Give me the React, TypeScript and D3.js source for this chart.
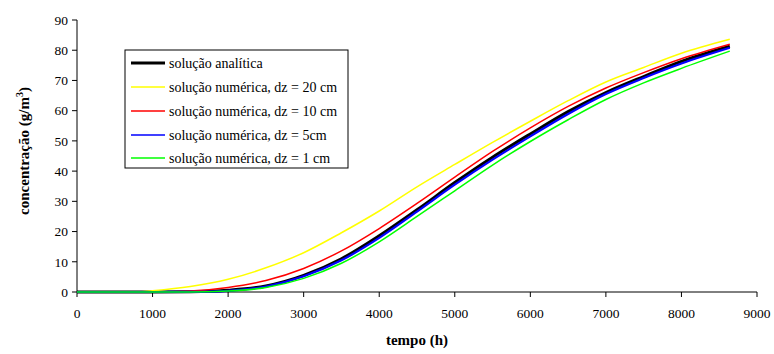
import React from "react";
import * as d3 from "d3";

const times = [0, 500, 800, 1000, 1500, 2000, 2500, 3000, 3500, 4000, 4500, 5000, 5500, 6000, 6500, 7000, 7500, 8000, 8640];
const analitica = [0, 0, 0, 0, 0.1, 0.6, 2.0, 5.5, 11, 18.6, 27.2, 36.2, 44.6, 52.3, 59.7, 66, 71.3, 76.3, 81.3];
const dz20 = [0, 0, 0, 0.4, 1.8, 4.2, 8, 13, 19.6, 26.8, 34.8, 42.2, 49.5, 56.5, 63.3, 69.5, 74.3, 79, 83.6];
const dz10 = [0, 0, 0, 0, 0.3, 1.5, 3.8, 7.8, 13.6, 21, 29.3, 38, 46.5, 54.3, 61.4, 67.5, 72.6, 77.2, 82];
const dz5 = [0, 0, 0, 0, 0.05, 0.4, 1.8, 5.2, 10.5, 17.9, 26.6, 35.5, 43.8, 51.5, 58.9, 65.5, 70.8, 75.6, 80.8];
const dz1 = [0, 0, 0, 0, 0, 0.3, 1.5, 4.5, 9.5, 16.6, 25, 33.5, 42, 49.8, 57, 63.7, 69.2, 74, 79.7];

const seriesNames = [
  "solução analítica",
  "solução numérica, dz = 20 cm",
  "solução numérica, dz = 10 cm",
  "solução numérica, dz = 5cm",
  "solução numérica, dz = 1 cm",
];
const seriesValues = [analitica, dz20, dz10, dz5, dz1];
const seriesColors = ["#000000", "#ffff00", "#ff0000", "#0000ff", "#00ff00"];
const seriesWidths = [3, 1.5, 1.5, 2.2, 1.5];

const xTicks = [0, 1000, 2000, 3000, 4000, 5000, 6000, 7000, 8000, 9000];
const yTicks = [0, 10, 20, 30, 40, 50, 60, 70, 80, 90];

const FONT = '"Liberation Serif", "Times New Roman", "DejaVu Serif", serif';

export default function App() {
  const W = 774, H = 354;
  const x = d3.scaleLinear().domain([0, 9000]).range([77, 757]);
  const y = d3.scaleLinear().domain([0, 90]).range([292, 20]);
  const line = d3
    .line<[number, number]>()
    .x((d) => x(d[0]))
    .y((d) => y(d[1]))
    .curve(d3.curveMonotoneX);

  const legX = 125, legY = 50, legW = 223, legH = 118;
  const rowY = [63, 87, 111, 135, 158];
  const ts: React.CSSProperties = { fontFamily: FONT };

  return (
    <svg width={W} height={H} style={{ position: "absolute", left: 0, top: 0, background: "#fff", fontFamily: FONT }}>
      <rect x={0} y={0} width={W} height={H} fill="#fff" />
      <line x1={77} y1={20} x2={77} y2={292} stroke="#000" strokeWidth={1} />
      <line x1={77} y1={292} x2={757} y2={292} stroke="#000" strokeWidth={1} />
      {yTicks.map((t) => (
        <g key={"y" + t}>
          <line x1={72} x2={77} y1={y(t)} y2={y(t)} stroke="#000" />
          <text x={68} y={y(t)} dy="0.35em" textAnchor="end" fontSize={13.5} style={ts}>
            {t}
          </text>
        </g>
      ))}
      {xTicks.map((t) => (
        <g key={"x" + t}>
          <line x1={x(t)} x2={x(t)} y1={292} y2={297} stroke="#000" />
          <text x={x(t)} y={318} textAnchor="middle" fontSize={13.5} style={ts}>
            {t}
          </text>
        </g>
      ))}
      {seriesValues.map((vals, i) => (
        <path
          key={"s" + i}
          d={line(times.map((t, j) => [t, vals[j]] as [number, number])) || ""}
          fill="none"
          stroke={seriesColors[i]}
          strokeWidth={seriesWidths[i]}
        />
      ))}
      <text x={417} y={345} textAnchor="middle" fontSize={15} fontWeight="bold" style={ts}>
        tempo (h)
      </text>
      <text transform="translate(29,151) rotate(-90)" textAnchor="middle" fontSize={15} fontWeight="bold" style={ts}>
        concentração (g/m<tspan dy={-6} fontSize={10}>3</tspan>
        <tspan dy={6}>)</tspan>
      </text>
      <rect x={legX} y={legY} width={legW} height={legH} fill="#fff" stroke="#000" strokeWidth={1} />
      {seriesNames.map((n, i) => (
        <g key={"l" + i}>
          <line x1={131} x2={165} y1={rowY[i]} y2={rowY[i]} stroke={seriesColors[i]} strokeWidth={i === 0 ? 3 : 1.5} />
          <text x={169} y={rowY[i]} dy="0.35em" fontSize={14} style={ts}>
            {n}
          </text>
        </g>
      ))}
    </svg>
  );
}
